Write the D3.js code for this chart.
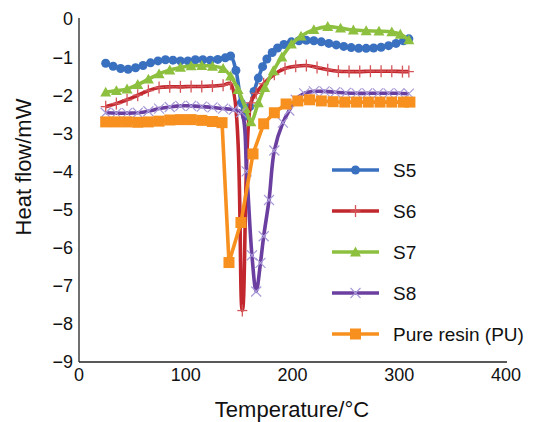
<!DOCTYPE html>
<html><head><meta charset="utf-8">
<script src="https://cdn.jsdelivr.net/npm/d3@7"></script>
<style>
body{margin:0;background:#fff;}
svg{display:block;font-family:"Liberation Sans",Arial,sans-serif;}
</style></head>
<body><svg id="c" width="539" height="422"></svg>
<script>
// ---- data ----
const s5T = [25,32,39,46,53,60,67,74,81,88,95,102,109,116,123,130,137,142,147,152,156,160,164,168,172,176,181,186,192,199,206,213,220,227,234,241,248,255,262,269,276,283,290,297,304,309];
const s5H = [-1.16,-1.24,-1.3,-1.32,-1.28,-1.22,-1.15,-1.1,-1.07,-1.08,-1.1,-1.1,-1.07,-1.07,-1.08,-1.06,-1.02,-0.97,-1.35,-2.2,-2.55,-2.3,-1.9,-1.55,-1.25,-1.05,-0.88,-0.76,-0.67,-0.6,-0.57,-0.56,-0.57,-0.6,-0.64,-0.68,-0.72,-0.75,-0.77,-0.77,-0.76,-0.74,-0.7,-0.64,-0.57,-0.52];

const s6T = [25,35,45,55,65,75,85,95,105,115,125,135,142,153,161,166,173,183,193,203,213,223,233,243,253,263,273,283,293,303,309];
const s6H = [-2.3,-2.22,-2.12,-2.0,-1.88,-1.8,-1.78,-1.78,-1.77,-1.77,-1.76,-1.74,-1.7,-7.65,-2.2,-1.95,-1.7,-1.45,-1.3,-1.24,-1.22,-1.27,-1.33,-1.37,-1.38,-1.38,-1.37,-1.37,-1.37,-1.38,-1.38];

const s7T = [25,35,45,55,65,75,85,95,105,115,125,135,142,149,156,161,168,174,182,190,199,208,220,233,245,257,269,281,293,301,309];
const s7H = [-1.92,-1.88,-1.84,-1.72,-1.58,-1.44,-1.34,-1.27,-1.23,-1.22,-1.24,-1.3,-1.5,-1.85,-2.35,-2.7,-2.2,-1.8,-1.36,-1.0,-0.66,-0.45,-0.28,-0.2,-0.24,-0.29,-0.31,-0.32,-0.34,-0.4,-0.55];

const s8T = [25,35,45,55,65,75,85,95,105,115,125,135,145,152,157,162,166,170,173,178,183,191,197,203,211,220,230,240,250,260,270,280,290,300,309];
const s8H = [-2.46,-2.47,-2.47,-2.46,-2.42,-2.35,-2.31,-2.28,-2.28,-2.3,-2.32,-2.35,-2.38,-2.45,-4.0,-6.2,-7.15,-6.4,-5.7,-4.75,-3.45,-2.72,-2.4,-2.12,-1.95,-1.9,-1.9,-1.92,-1.94,-1.95,-1.95,-1.95,-1.95,-1.95,-1.96];

const puT = [25,35,45,55,65,75,85,95,105,115,125,134,140.5,151.7,163,173,183,194,205,216,227,238,249,260,271,282,293,304,310];
const puH = [-2.7,-2.7,-2.7,-2.71,-2.7,-2.68,-2.65,-2.64,-2.64,-2.66,-2.69,-2.72,-6.39,-5.34,-3.54,-2.75,-2.46,-2.23,-2.15,-2.12,-2.15,-2.17,-2.18,-2.18,-2.18,-2.18,-2.18,-2.18,-2.18];

const seriesNames = ["S5","S6","S7","S8","Pure resin (PU)"];
const xTicks = [0,100,200,300,400];
const yTicks = [0,-1,-2,-3,-4,-5,-6,-7,-8,-9];

// ---- chart ----
const svg = d3.select("#c");
const x = d3.scaleLinear().domain([0,400]).range([79,506]);
const y = d3.scaleLinear().domain([-9,0]).range([362,19]);

const series = [
  {name:seriesNames[0], T:s5T, H:s5H, color:"#3a70c0", marker:"circle", curve:d3.curveCatmullRom.alpha(0.5)},
  {name:seriesNames[1], T:s6T, H:s6H, color:"#c1272d", marker:"plus", curve:d3.curveCatmullRom.alpha(0.5)},
  {name:seriesNames[2], T:s7T, H:s7H, color:"#8dc03f", marker:"tri", curve:d3.curveCatmullRom.alpha(0.5)},
  {name:seriesNames[3], T:s8T, H:s8H, color:"#6b3fa0", marker:"x", curve:d3.curveCatmullRom.alpha(0.5)},
  {name:seriesNames[4], T:puT, H:puH, color:"#f7901e", marker:"square", curve:d3.curveLinear}
];

function drawMarker(g, type, color, cx, cy){
  if(type==="circle"){
    g.append("circle").attr("cx",cx).attr("cy",cy).attr("r",4.5).attr("fill",color);
  } else if(type==="plus"){
    g.append("line").attr("x1",cx).attr("x2",cx).attr("y1",cy-6).attr("y2",cy+6).attr("stroke","#d4555a").attr("stroke-width",1.3);
    g.append("line").attr("x1",cx-5).attr("x2",cx+5).attr("y1",cy).attr("y2",cy).attr("stroke","#d4555a").attr("stroke-width",1.3);
  } else if(type==="tri"){
    const s=5.5;
    g.append("path").attr("d",`M${cx},${cy-s}L${cx+s},${cy+s*0.8}L${cx-s},${cy+s*0.8}Z`).attr("fill",color);
  } else if(type==="x"){
    const s=5;
    g.append("path").attr("d",`M${cx-s},${cy-s}L${cx+s},${cy+s}M${cx-s},${cy+s}L${cx+s},${cy-s}`).attr("stroke","#a99bd8").attr("stroke-width",1.2).attr("fill","none");
  } else if(type==="square"){
    g.append("rect").attr("x",cx-5.5).attr("y",cy-5.5).attr("width",11).attr("height",11).attr("fill",color);
  }
}

const plot = svg.append("g");
series.forEach(s=>{
  const pts = s.T.map((t,i)=>[t,s.H[i]]);
  const line = d3.line().x(d=>x(d[0])).y(d=>y(d[1])).curve(s.curve);
  const g = plot.append("g");
  g.append("path").attr("d",line(pts)).attr("fill","none").attr("stroke",s.color).attr("stroke-width",3.6).attr("stroke-linejoin","round");
  pts.forEach(p=>drawMarker(g,s.marker,s.color,x(p[0]),y(p[1])));
});

// axes
svg.append("line").attr("x1",x(0)).attr("x2",x(0)).attr("y1",18).attr("y2",y(-9)).attr("stroke","#222").attr("stroke-width",1.3);
svg.append("line").attr("x1",x(0)).attr("x2",x(400)+1).attr("y1",y(-9)).attr("y2",y(-9)).attr("stroke","#222").attr("stroke-width",1.3);

svg.append("g").selectAll("text").data(xTicks).join("text")
  .attr("x",d=>x(d)).attr("y",381).attr("text-anchor","middle")
  .attr("font-size",18).attr("fill","#111").text(d=>d);
svg.append("g").selectAll("text").data(yTicks).join("text")
  .attr("x",73).attr("y",d=>y(d)).attr("dy","0.36em").attr("text-anchor","end")
  .attr("font-size",18).attr("fill","#111").text(d=>d===0?"0":"\u2212"+Math.abs(d));

svg.append("text").attr("transform","translate(31,167) rotate(-90)").attr("text-anchor","middle")
  .attr("font-size",22).attr("fill","#111").text("Heat flow/mW");
svg.append("text").attr("x",292).attr("y",417).attr("text-anchor","middle")
  .attr("font-size",22).attr("fill","#111").text("Temperature/\u00B0C");

// legend
const lg = svg.append("g");
series.forEach((s,i)=>{
  const ly = 170 + i*41;
  lg.append("line").attr("x1",332).attr("x2",379).attr("y1",ly).attr("y2",ly).attr("stroke",s.color).attr("stroke-width",3.6);
  drawMarker(lg,s.marker,s.color,355.5,ly);
  lg.append("text").attr("x",393).attr("y",ly).attr("dy","0.36em").attr("font-size",19).attr("fill","#111").text(s.name);
});
</script>
</body></html>
